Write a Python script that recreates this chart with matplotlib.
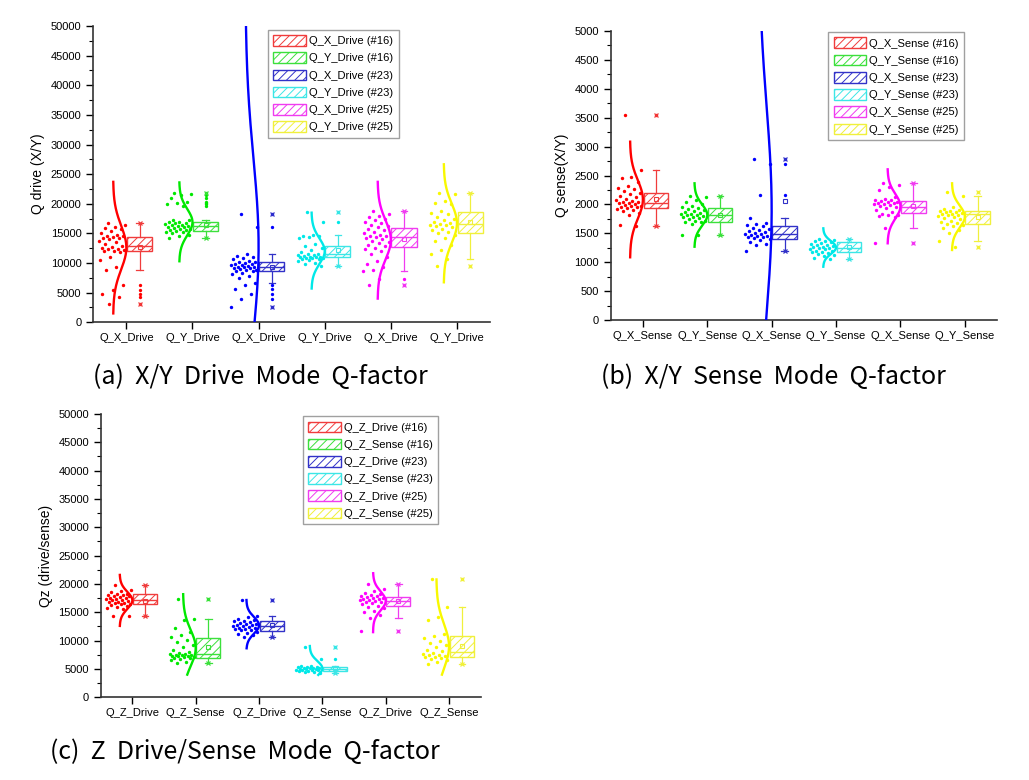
import numpy as np
import matplotlib
matplotlib.use('Agg')
import matplotlib.pyplot as plt
from matplotlib.patches import Patch

plt.rcParams['font.family'] = ['Liberation Sans', 'DejaVu Sans']
plt.rcParams['hatch.linewidth'] = 0.7

# ---------------- data: panel (a) X/Y drive ----------------
a_cats = ['Q_X_Drive', 'Q_Y_Drive', 'Q_X_Drive', 'Q_Y_Drive', 'Q_X_Drive', 'Q_Y_Drive']
a_legend = ['Q_X_Drive (#16)', 'Q_Y_Drive (#16)', 'Q_X_Drive (#23)',
            'Q_Y_Drive (#23)', 'Q_X_Drive (#25)', 'Q_Y_Drive (#25)']
a_red = [16800, 16500, 16100, 15900, 15700, 15400, 15000, 14800, 14600, 14500, 14400, 14300,
         14200, 14100, 13800, 13500, 13200, 12900, 12700, 12500, 12400, 12300, 12200, 12100,
         12000, 11800, 11000, 10500, 9400, 8900, 6300, 5500, 4700, 4200, 3100]
a_green = [21800, 21600, 21400, 21000, 20300, 20100, 19900, 19600, 17300, 17200, 17000, 16900,
           16800, 16700, 16600, 16500, 16400, 16300, 16200, 16100, 16000, 15900, 15800, 15700,
           15600, 15500, 15400, 15300, 15200, 15000, 14800, 14600, 14300]
a_blue = [18300, 16100, 11500, 11200, 11000, 10800, 10600, 10400, 10200, 10100, 10000, 9900,
          9800, 9700, 9600, 9500, 9400, 9350, 9300, 9200, 9100, 9000, 8900, 8800, 8700, 8600,
          8400, 8200, 7800, 7400, 6600, 6300, 5700, 4800, 3900, 2500]
a_cyan = [18600, 17000, 14700, 14600, 14500, 14400, 14300, 13200, 12900, 12600, 12200, 11900,
          11600, 11500, 11400, 11300, 11200, 11100, 11000, 11000, 10950, 10900, 10850, 10800,
          10700, 10600, 10500, 10300, 10000, 9800, 9550]
a_magenta = [18700, 18300, 18000, 17800, 17500, 17200, 17000, 16800, 16500, 16200, 16000, 15800,
             15600, 15300, 15000, 14800, 14600, 14500, 14400, 14200, 14000, 13800, 13500, 13300,
             13000, 12800, 12600, 12400, 12100, 11500, 11000, 10300, 9800, 9300, 8900, 8600,
             7300, 6300]
a_yellow = [21800, 21600, 20400, 20200, 20000, 18800, 18500, 18200, 17800, 17500, 17200, 17000,
            16800, 16600, 16500, 16400, 16200, 16000, 15800, 15500, 15200, 15000, 14700, 14300,
            13800, 13000, 12200, 11500, 10600, 9500]
a_q1 = [12080, 15460, 8660, 10970, 12650, 15020]
a_med = [12800, 16250, 9380, 11470, 14450, 16540]
a_q3 = [14450, 16980, 10120, 12930, 15960, 18660]
a_wlo = [8900, 14300, 6600, 9550, 8600, 10600]
a_whi = [16800, 17300, 11500, 14700, 18700, 21800]
a_mean = [12650, 16500, 9300, 12200, 14050, 16870]
a_cm = [12600, 16900, 12800, 12000, 13900, 16700]
a_cs = [3700, 2220, 15000, 2150, 3280, 3320]
a_clo = [1500, 10300, -40000, 5700, 4000, 6750]
a_chi = [23700, 23600, 60000, 18500, 23700, 26660]

# ---------------- data: panel (b) X/Y sense ----------------
b_cats = ['Q_X_Sense', 'Q_Y_Sense', 'Q_X_Sense', 'Q_Y_Sense', 'Q_X_Sense', 'Q_Y_Sense']
b_legend = ['Q_X_Sense (#16)', 'Q_Y_Sense (#16)', 'Q_X_Sense (#23)',
            'Q_Y_Sense (#23)', 'Q_X_Sense (#25)', 'Q_Y_Sense (#25)']
b_red = [3540, 2600, 2480, 2460, 2380, 2320, 2280, 2260, 2230, 2200, 2180, 2150, 2120, 2100,
         2080, 2060, 2050, 2040, 2030, 2020, 2000, 1990, 1980, 1970, 1960, 1950, 1940, 1920,
         1900, 1880, 1850, 1820, 1640, 1620]
b_green = [2150, 2120, 2080, 2040, 2000, 1980, 1960, 1940, 1920, 1900, 1880, 1860, 1850, 1840,
           1830, 1820, 1810, 1800, 1790, 1780, 1760, 1740, 1720, 1710, 1700, 1690, 1660, 1470,
           1470]
b_blue = [2780, 2700, 2170, 1770, 1680, 1660, 1640, 1620, 1600, 1580, 1560, 1540, 1520, 1500,
          1490, 1480, 1470, 1460, 1450, 1440, 1430, 1420, 1400, 1380, 1350, 1320, 1300, 1200]
b_cyan = [1410, 1390, 1370, 1360, 1350, 1330, 1320, 1300, 1290, 1280, 1270, 1260, 1250, 1240,
          1230, 1220, 1200, 1190, 1180, 1170, 1160, 1150, 1130, 1100, 1070, 1060]
b_magenta = [2370, 2330, 2300, 2250, 2120, 2100, 2080, 2070, 2060, 2050, 2040, 2030, 2020,
             2010, 2000, 1990, 1980, 1960, 1940, 1900, 1860, 1840, 1820, 1810, 1800, 1790,
             1600, 1340]
b_yellow = [2210, 2150, 1950, 1920, 1900, 1890, 1880, 1870, 1860, 1850, 1840, 1830, 1820, 1810,
            1800, 1780, 1760, 1740, 1720, 1700, 1680, 1660, 1650, 1620, 1600, 1550, 1500, 1360,
            1260]
b_q1 = [1932, 1701, 1401, 1171, 1846, 1655]
b_med = [2019, 1817, 1482, 1251, 1950, 1829]
b_q3 = [2192, 1943, 1626, 1344, 2064, 1886]
b_wlo = [1620, 1470, 1200, 1060, 1600, 1360]
b_whi = [2600, 2150, 1770, 1410, 2370, 2150]
b_mean = [2088, 1817, 2064, 1268, 1972, 1780]
b_cm = [2085, 1815, 1900, 1254, 1967, 1788]
b_cs = [333, 183, 1800, 111, 213, 192]
b_clo = [1085, 1268, -4000, 922, 1327, 1211]
b_chi = [3085, 2365, 6000, 1586, 2607, 2365]

# ---------------- data: panel (c) Z drive/sense ----------------
c_cats = ['Q_Z_Drive', 'Q_Z_Sense', 'Q_Z_Drive', 'Q_Z_Sense', 'Q_Z_Drive', 'Q_Z_Sense']
c_legend = ['Q_Z_Drive (#16)', 'Q_Z_Sense (#16)', 'Q_Z_Drive (#23)',
            'Q_Z_Sense (#23)', 'Q_Z_Drive (#25)', 'Q_Z_Sense (#25)']
c_red = [19800, 19000, 18700, 18500, 18300, 18200, 18100, 18000, 17900, 17800, 17700, 17600,
         17500, 17400, 17300, 17200, 17100, 17000, 16900, 16800, 16700, 16600, 16500, 16400,
         16300, 16200, 16000, 15800, 15500, 14400, 14300]
c_green = [17400, 13800, 13600, 12300, 11500, 11000, 10600, 10200, 9700, 9300, 8800, 8400,
           8000, 7800, 7700, 7600, 7500, 7450, 7400, 7350, 7300, 7250, 7200, 7100, 7000, 6900,
           6800, 6600, 6300, 6000]
c_blue = [17100, 14300, 14100, 13900, 13700, 13500, 13400, 13300, 13100, 13000, 12900, 12800,
          12700, 12600, 12500, 12400, 12300, 12200, 12100, 12000, 11900, 11800, 11600, 11400,
          11200, 11000, 10600]
c_cyan = [8900, 6700, 5500, 5450, 5400, 5350, 5300, 5250, 5200, 5150, 5100, 5050, 5000, 4950,
          4900, 4850, 4800, 4750, 4700, 4600, 4500, 4400, 4300]
c_magenta = [20000, 19200, 18700, 18400, 18200, 18000, 17900, 17800, 17700, 17600, 17500,
             17400, 17300, 17200, 17100, 17000, 16900, 16800, 16600, 16400, 16200, 16000,
             15700, 15300, 15000, 14600, 14000, 11700]
c_yellow = [20800, 16000, 14200, 13600, 11200, 10800, 10400, 10000, 9600, 9200, 8800, 8400,
            8100, 7900, 7700, 7500, 7400, 7300, 7200, 7100, 7000, 6800, 6500, 6200, 5900]
c_q1 = [16410, 6990, 11760, 4700, 16110, 7170]
c_med = [17170, 7590, 12590, 5050, 17050, 8000]
c_q3 = [18180, 10410, 13470, 5410, 17760, 10820]
c_wlo = [14300, 6000, 10600, 4300, 14000, 5900]
c_whi = [19800, 13800, 14300, 5500, 20000, 16000]
c_mean = [17050, 8930, 12700, 5200, 16950, 9050]
c_cm = [17100, 8700, 12700, 5100, 17000, 9000]
c_cs = [1500, 3170, 1450, 1300, 1650, 3900]
c_clo = [12600, 4000, 8650, 3950, 11500, 4000]
c_chi = [21600, 18200, 17170, 9050, 21900, 20800]

colors = ['#ff0000', '#00e800', '#0000ff', '#00e8e8', '#ff00ff', '#f8f800']
box_colors = ['#f03c3c', '#3ce03c', '#3232c8', '#3ce6e6', '#f03cf0', '#f0f03c']

W, H = 1029, 780
fig = plt.figure(figsize=(W / 100, H / 100), dpi=100)


def px_axes(l, r, t, b):
    return fig.add_axes([l / W, 1 - b / H, (r - l) / W, (b - t) / H])


def jitter(n):
    k = np.arange(n)
    return ((k * 0.6180339887 + 0.37) % 1.0) - 0.5


def panel(ax, series, cats, legend, q1, med, q3, wlo, whi, mean, cm, cs, clo, chi,
          ymax, major, ylabel, leg_anchor):
    for i, vals in enumerate(series):
        pos = i + 1
        c = colors[i]
        bc = box_colors[i]
        v = np.asarray(vals, float)
        xs = pos - 0.22 + jitter(len(v)) * 0.4
        ax.scatter(xs, v, s=6, color=c, linewidths=0, zorder=3)
        yy = np.linspace(clo[i], chi[i], 400)
        xx = pos - 0.2 + 0.2 * np.exp(-0.5 * ((yy - cm[i]) / cs[i]) ** 2)
        ax.plot(xx, yy, color=c, lw=1.7, zorder=4)
        fl = v[(v < wlo[i]) | (v > whi[i])]
        st = [dict(q1=q1[i], med=med[i], q3=q3[i], whislo=wlo[i], whishi=whi[i],
                   mean=mean[i], fliers=fl)]
        ax.bxp(st, positions=[pos + 0.2], widths=0.38, patch_artist=True, showmeans=True,
               manage_ticks=False, capwidths=0.1,
               boxprops=dict(facecolor='white', edgecolor=bc, hatch='////', lw=1.0),
               medianprops=dict(color=bc, lw=1.0),
               whiskerprops=dict(color=bc, lw=0.9), capprops=dict(color=bc, lw=0.9),
               meanprops=dict(marker='s', markerfacecolor='none', markeredgecolor=bc,
                              markersize=3.5, markeredgewidth=0.8),
               flierprops=dict(marker='o', markerfacecolor=c, markeredgecolor='none',
                               markersize=2.4))
        ax.plot([pos + 0.2, pos + 0.2], [v.min(), v.max()], ls='none', marker='x',
                color=bc, ms=3.5, mew=0.9, zorder=5)
    ax.set_xlim(0.5, 6.5)
    ax.set_ylim(0, ymax)
    ax.set_xticks(range(1, 7))
    ax.set_xticklabels(cats, fontsize=8)
    ax.set_yticks(np.arange(0, ymax + 1, major))
    ax.set_yticks(np.arange(major / 2, ymax, major), minor=True)
    ax.tick_params(axis='y', labelsize=8, length=5, width=1, direction='out')
    ax.tick_params(axis='y', which='minor', length=3, width=0.8)
    ax.tick_params(axis='x', length=5, width=1, direction='out', pad=3)
    for s in ['top', 'right']:
        ax.spines[s].set_visible(False)
    for s in ['left', 'bottom']:
        ax.spines[s].set_linewidth(1.2)
        ax.spines[s].set_color('#333333')
    ax.set_ylabel(ylabel, fontsize=10)
    handles = [Patch(facecolor='white', edgecolor=box_colors[i], hatch='////', lw=1.0)
               for i in range(6)]
    lg = ax.legend(handles, legend, loc='upper left', bbox_to_anchor=leg_anchor,
                   fontsize=8, frameon=True, fancybox=False, edgecolor='#888888',
                   handlelength=2.9, handleheight=1.1, labelspacing=0.55,
                   handletextpad=0.3, borderpad=0.5, borderaxespad=0)
    lg.get_frame().set_linewidth(1.0)


ax_a = px_axes(93.3, 490, 26, 322.3)
panel(ax_a, [a_red, a_green, a_blue, a_cyan, a_magenta, a_yellow], a_cats, a_legend,
      a_q1, a_med, a_q3, a_wlo, a_whi, a_mean, a_cm, a_cs, a_clo, a_chi,
      50000, 5000, 'Q drive (X/Y)', (0.44, 0.988))

ax_b = px_axes(610.7, 997, 31, 320)
panel(ax_b, [b_red, b_green, b_blue, b_cyan, b_magenta, b_yellow], b_cats, b_legend,
      b_q1, b_med, b_q3, b_wlo, b_whi, b_mean, b_cm, b_cs, b_clo, b_chi,
      5000, 500, 'Q sense(X/Y)', (0.5625, 0.997))

ax_c = px_axes(100.7, 480.7, 414, 697.3)
panel(ax_c, [c_red, c_green, c_blue, c_cyan, c_magenta, c_yellow], c_cats, c_legend,
      c_q1, c_med, c_q3, c_wlo, c_whi, c_mean, c_cm, c_cs, c_clo, c_chi,
      50000, 5000, 'Qz (drive/sense)', (0.532, 0.993))

cap_font = ['Noto Sans CJK KR', 'DejaVu Sans']
fig.text(93 / W, 1 - 384 / H, '(a)  X/Y  Drive  Mode  Q-factor', fontsize=18,
         family=cap_font, va='baseline', ha='left')
fig.text(601 / W, 1 - 384 / H, '(b)  X/Y  Sense  Mode  Q-factor', fontsize=18,
         family=cap_font, va='baseline', ha='left')
fig.text(50 / W, 1 - 759 / H, '(c)  Z  Drive/Sense  Mode  Q-factor', fontsize=18,
         family=cap_font, va='baseline', ha='left')

fig.savefig('out.png', dpi=100, facecolor='white')
